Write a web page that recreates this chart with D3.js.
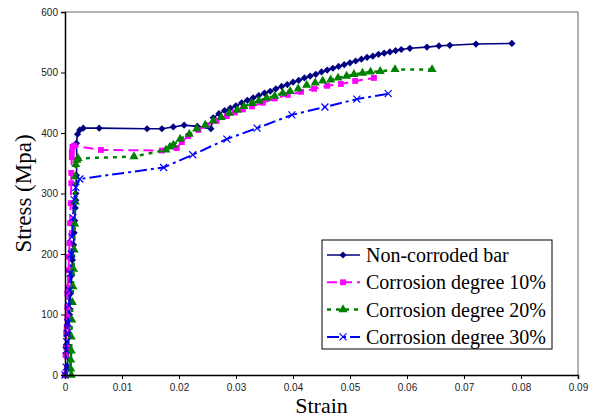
<!DOCTYPE html>
<html>
<head>
<meta charset="utf-8">
<script src="https://cdn.jsdelivr.net/npm/d3@7"></script>
<style>
  body { margin: 0; background: #fff; }
  svg { display: block; }
</style>
</head>
<body>
<div id="chart"></div>
<script>
// values: [strain, stress in MPa]
var nonCorroded = [
  [0,0],[0.0004,13],[0.0006,40],[0.0007,69],[0.0008,100],[0.0010,135],[0.0012,165],
  [0.0013,190],[0.0015,215],[0.0016,235],[0.0017,255],[0.0018,276],[0.0019,289],
  [0.0019,300],[0.0020,330],[0.0021,357],[0.0020,383],[0.0022,398],[0.0026,405],
  [0.0032,408],[0.0060,408],[0.0144,407],[0.0170,407],[0.0190,410],[0.0209,413],
  [0.0232,411],[0.0256,407],[0.0260,425],[0.0270,432],[0.0280,437],[0.0290,441],
  [0.0300,445],[0.0310,450],[0.0320,454],[0.0330,458],[0.0340,462],[0.0350,466],
  [0.0360,469],[0.0370,473],[0.0380,477],[0.0390,480],[0.0400,484],[0.0410,487],
  [0.0420,491],[0.0430,494],[0.0440,497],[0.0450,501],[0.0460,504],[0.0470,507],
  [0.0480,510],[0.0490,513],[0.0500,516],[0.0510,519],[0.0520,522],[0.0530,525],
  [0.0540,527],[0.0550,530],[0.0560,532],[0.0570,534],[0.0580,536],[0.0590,538],
  [0.0605,540],[0.0635,542],[0.0656,544],[0.0675,545],[0.0721,547],[0.0784,548]
];
var corr10 = [
  [0,0],[0.0001,33],[0.0002,46],[0.0002,69],[0.0003,80],[0.0004,96],[0.0004,112],
  [0.0004,135],[0.0005,145],[0.0006,173],[0.0007,195],[0.0008,218],[0.0009,251],
  [0.0010,284],[0.0011,317],[0.0011,334],[0.0012,360],[0.0012,369],[0.0013,377],
  [0.0016,379],[0.0063,372],[0.0170,371],[0.0196,375],[0.0205,385],[0.0216,395],
  [0.0234,405],[0.0249,413],[0.0266,420],[0.0284,428],[0.0298,434],[0.0312,439],
  [0.0328,444],[0.0347,450],[0.0368,457],[0.0391,463],[0.0414,468],[0.0437,473],
  [0.0460,478],[0.0484,481],[0.0509,486],[0.0542,491]
];
var corr20 = [
  [0.0011,0],[0.0010,10],[0.0010,25],[0.0011,40],[0.0011,63],[0.0012,91],[0.0013,120],
  [0.0014,146],[0.0015,175],[0.0016,207],[0.0017,250],[0.0018,286],[0.0018,328],
  [0.0019,348],[0.0021,355],[0.0023,358],[0.0121,361],[0.0177,372],[0.0184,377],
  [0.0190,380],[0.0202,390],[0.0218,398],[0.0231,407],[0.0246,413],[0.0260,420],
  [0.0274,426],[0.0288,433],[0.0302,438],[0.0314,444],[0.0328,449],[0.0340,453],
  [0.0354,458],[0.0368,461],[0.0382,466],[0.0395,469],[0.0409,473],[0.0424,479],
  [0.0439,483],[0.0452,486],[0.0466,488],[0.0479,491],[0.0494,494],[0.0507,497],
  [0.0522,499],[0.0536,501],[0.0553,502],[0.0579,505],[0.0644,505]
];
var corr30 = [
  [0,0],[0.0002,13],[0.0002,41],[0.0003,55],[0.0004,69],[0.0005,86],[0.0007,115],
  [0.0008,140],[0.0009,168],[0.0011,200],[0.0012,228],[0.0014,260],[0.0016,290],
  [0.0019,310],[0.0026,324],[0.0173,343],[0.0224,364],[0.0284,390],[0.0337,408],
  [0.0398,430],[0.0456,443],[0.0512,456],[0.0567,465]
];
var seriesNames = ["Non-corroded bar", "Corrosion degree 10%", "Corrosion degree 20%", "Corrosion degree 30%"];
var xTicks = [0, 0.01, 0.02, 0.03, 0.04, 0.05, 0.06, 0.07, 0.08, 0.09];
var yTicks = [0, 100, 200, 300, 400, 500, 600];

!function(){
    var width = 597, height = 418;
    var pl = 65, pr = 578, pt = 12, pb = 375;

    var x = d3.scaleLinear().domain([0, 0.09]).range([pl, pr]);
    var y = d3.scaleLinear().domain([0, 600]).range([pb, pt]);

    var svg = d3.select("#chart").append("svg")
        .attr("width", width)
        .attr("height", height);

    // frame (top + right)
    svg.append("path")
        .attr("d", "M" + pl + "," + pt + "H" + pr + "V" + pb)
        .attr("fill", "none")
        .attr("stroke", "#666")
        .attr("stroke-width", 1);

    var styles = [
        { data: nonCorroded, color: "#000080", width: 1.6, dash: null, marker: "diamond" },
        { data: corr10, color: "#ff00ff", width: 2, dash: "10,5", marker: "square" },
        { data: corr20, color: "#008000", width: 2.5, dash: "4,5", marker: "triangle" },
        { data: corr30, color: "#0000ff", width: 2, dash: "12,4,3,4", marker: "cross" }
    ];

    function drawMarker(g, type, color) {
        if (type === "diamond") {
            g.append("path").attr("d", d3.symbol(d3.symbolSquare, 26)()).attr("transform", "rotate(45)")
                .attr("fill", color);
        } else if (type === "square") {
            g.append("path").attr("d", d3.symbol(d3.symbolSquare, 34)()).attr("fill", color);
        } else if (type === "triangle") {
            g.append("path").attr("d", d3.symbol(d3.symbolTriangle, 36)()).attr("fill", color);
        } else {
            g.append("path").attr("d", "M-3.5,-3.5L3.5,3.5M-3.5,3.5L3.5,-3.5")
                .attr("stroke", color).attr("stroke-width", 1.2).attr("fill", "none");
        }
    }

    var line = d3.line()
        .x(function(d) { return x(d[0]); })
        .y(function(d) { return y(d[1]); });

    styles.forEach(function(s) {
        var g = svg.append("g");
        g.append("path")
            .datum(s.data)
            .attr("d", line)
            .attr("fill", "none")
            .attr("stroke", s.color)
            .attr("stroke-width", s.width)
            .attr("stroke-dasharray", s.dash);
        g.selectAll(".pt")
            .data(s.data)
            .enter()
            .append("g")
            .attr("transform", function(d) { return "translate(" + x(d[0]) + "," + y(d[1]) + ")"; })
            .each(function() { drawMarker(d3.select(this), s.marker, s.color); });
    });

    // axes
    var xAxis = svg.append("g")
        .attr("transform", "translate(0," + pb + ")")
        .call(d3.axisBottom(x).tickValues(xTicks).tickSize(4).tickPadding(5)
            .tickFormat(function(d) { return d === 0 ? "0" : d3.format(".2f")(d); }));
    var yAxis = svg.append("g")
        .attr("transform", "translate(" + pl + ",0)")
        .call(d3.axisLeft(y).tickValues(yTicks).tickSize(4).tickPadding(3));

    [xAxis, yAxis].forEach(function(a) {
        a.select(".domain").attr("stroke", "#000").attr("stroke-width", 1.5);
        a.selectAll(".tick line").attr("stroke", "#000");
        a.selectAll(".tick text")
            .attr("font-family", "Liberation Sans, Arial, sans-serif")
            .attr("font-size", 10)
            .attr("fill", "#222");
    });

    // axis titles
    svg.append("text")
        .attr("x", (pl + pr) / 2)
        .attr("y", 413)
        .attr("text-anchor", "middle")
        .attr("font-family", "Liberation Serif, Times New Roman, serif")
        .attr("font-size", 22)
        .text("Strain");

    svg.append("text")
        .attr("transform", "translate(31," + ((pt + pb) / 2) + ") rotate(-90)")
        .attr("text-anchor", "middle")
        .attr("font-family", "Liberation Serif, Times New Roman, serif")
        .attr("font-size", 23)
        .text("Stress (Mpa)");

    // legend
    var legend = svg.append("g").attr("transform", "translate(322,240)");
    legend.append("rect")
        .attr("width", 230)
        .attr("height", 109)
        .attr("fill", "#fff")
        .attr("stroke", "#000")
        .attr("stroke-width", 1);

    styles.forEach(function(s, i) {
        var row = legend.append("g").attr("transform", "translate(0," + (15 + i * 27.3) + ")");
        row.append("line")
            .attr("x1", 5).attr("x2", 38)
            .attr("stroke", s.color)
            .attr("stroke-width", s.width)
            .attr("stroke-dasharray", s.dash);
        drawMarker(row.append("g").attr("transform", "translate(21,0)"), s.marker, s.color);
        row.append("text")
            .attr("x", 44)
            .attr("y", 7)
            .attr("font-family", "Liberation Serif, Times New Roman, serif")
            .attr("font-size", 20)
            .text(seriesNames[i]);
    });
}();
</script>
</body>
</html>
